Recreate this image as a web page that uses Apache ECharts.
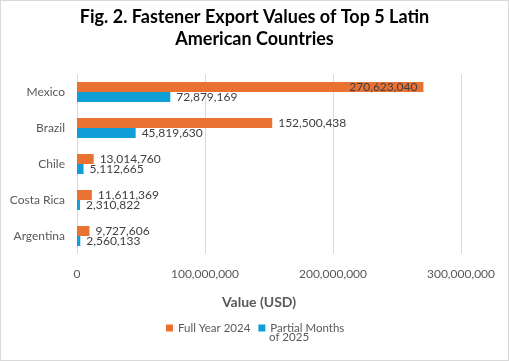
<!DOCTYPE html>
<html><head><meta charset="utf-8">
<script src="https://cdn.jsdelivr.net/npm/echarts@6/dist/echarts.min.js"></script>
<style>html,body{margin:0;padding:0;background:#fff}#c{width:509px;height:361px;box-sizing:border-box;border:1px solid #d9d9d9}</style>
</head><body><div id="c"></div>
<script>
const categories = ['Mexico', 'Brazil', 'Chile', 'Costa Rica', 'Argentina'];
const fullYear2024 = [270623040, 152500438, 13014760, 11611369, 9727606];
const partial2025 = [72879169, 45819630, 5112665, 2310822, 2560133];
const xTicks = [0, 100000000, 200000000, 300000000];
const seriesNames = ['Full Year 2024', 'Partial Months of 2025'];
const fmt = v => Number(v).toLocaleString('en-US');
const font = 'Lato, "Open Sans", sans-serif';
const chart = echarts.init(document.getElementById('c'));
chart.setOption({
  animation: false,
  textStyle: {fontFamily: font},
  title: {
    text: 'Fig. 2. Fastener Export Values of Top 5 Latin\nAmerican Countries',
    left: 'center', top: 0,
    textStyle: {fontSize: 18, fontWeight: 'bold', color: '#000', lineHeight: 22, fontFamily: font}
  },
  legend: {
    top: 316, left: 160, itemWidth: 7, itemHeight: 7, itemGap: 8,
    icon: 'rect',
    textStyle: {fontSize: 11.5, color: '#595959'},
    formatter: n => n === seriesNames[1] ? 'Partial Months' : n,
    data: seriesNames
  },
  graphic: [{
    type: 'text', left: 268, top: 330,
    style: {text: 'of 2025', fontSize: 11.5, fill: '#595959', fontFamily: font}
  }],
  grid: {left: 76, right: 47, top: 73, bottom: 106, containLabel: false},
  xAxis: {
    type: 'value', min: 0, max: 300000000, interval: 100000000,
    axisLabel: {formatter: v => fmt(v), color: '#595959', fontSize: 12, margin: 14},
    splitLine: {lineStyle: {color: '#d9d9d9'}},
    axisLine: {show: false}, axisTick: {show: false},
    name: 'Value (USD)', nameLocation: 'middle', nameGap: 41,
    nameTextStyle: {fontWeight: 'bold', fontSize: 14, color: '#595959', padding: [0, 20, 0, 0]}
  },
  yAxis: {
    type: 'category', data: categories, inverse: true,
    axisLabel: {color: '#595959', fontSize: 12, margin: 12},
    axisLine: {show: false}, axisTick: {show: false}
  },
  series: [
    {
      name: seriesNames[0], type: 'bar', data: fullYear2024.map((v, i) => ({
        value: v,
        label: i === 0 ? {position: 'insideRight'} : {position: 'right'}
      })),
      itemStyle: {color: '#E97132'}, barWidth: 10, barGap: '0%',
      label: {show: true, formatter: p => fmt(p.value), color: '#404040', fontSize: 12, distance: 6}
    },
    {
      name: seriesNames[1], type: 'bar', data: partial2025,
      itemStyle: {color: '#0F9ED5'}, barWidth: 10,
      label: {show: true, position: 'right', formatter: p => fmt(p.value), color: '#404040', fontSize: 12, distance: 6}
    }
  ]
});
</script></body></html>
